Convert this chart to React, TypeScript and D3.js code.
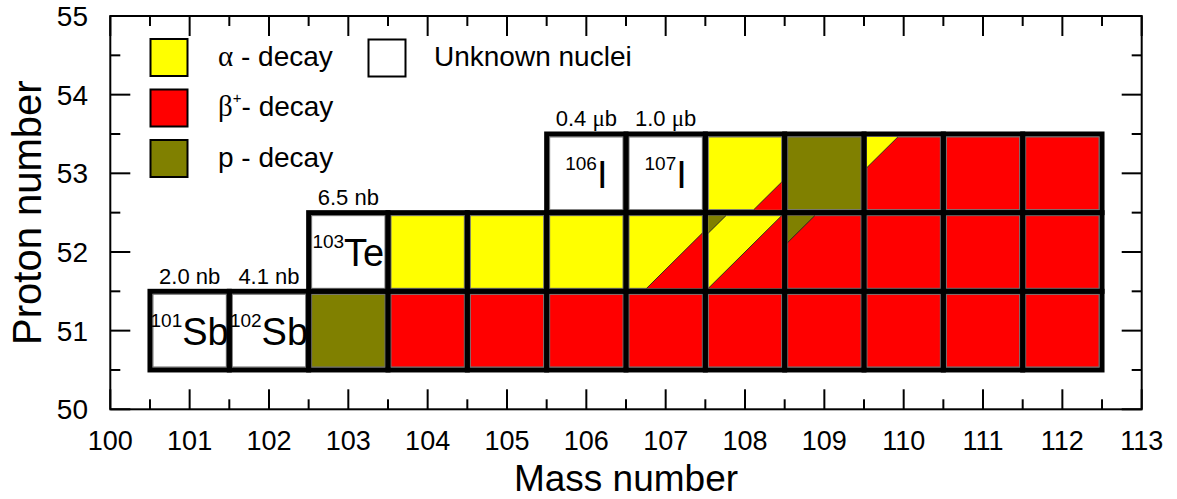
import React from "react";
import * as d3 from "d3";

// ---- data ----
const massTicks = [100, 101, 102, 103, 104, 105, 106, 107, 108, 109, 110, 111, 112, 113];
const protonTicks = [50, 51, 52, 53, 54, 55];

const row51Start = 101;
const row51Decay = ["unknown", "unknown", "p", "beta", "beta", "beta", "beta", "beta", "beta", "beta", "beta", "beta"];
const row52Start = 103;
const row52Decay = ["unknown", "alpha", "alpha", "alpha", "alpha", "alpha", "beta", "beta", "beta", "beta"];
const row53Start = 106;
const row53Decay = ["unknown", "unknown", "alpha", "p", "beta", "beta", "beta"];

// partial decay branches drawn as triangles in cell corners
const splitCells = [
  { A: 107, Z: 52, corner: "br", size: 0.76, decay: "beta" },
  { A: 108, Z: 52, corner: "br", size: 1.0, decay: "beta" },
  { A: 108, Z: 52, corner: "tl", size: 0.24, decay: "p" },
  { A: 109, Z: 52, corner: "tl", size: 0.37, decay: "p" },
  { A: 108, Z: 53, corner: "br", size: 0.38, decay: "beta" },
  { A: 110, Z: 53, corner: "tl", size: 0.42, decay: "alpha" },
];

const unknownLabels = [
  { A: 101, Z: 51, mass: "101", sym: "Sb", xsVal: "2.0", xsUnit: "nb" },
  { A: 102, Z: 51, mass: "102", sym: "Sb", xsVal: "4.1", xsUnit: "nb" },
  { A: 103, Z: 52, mass: "103", sym: "Te", xsVal: "6.5", xsUnit: "nb" },
  { A: 106, Z: 53, mass: "106", sym: "I", xsVal: "0.4", xsUnit: "μb" },
  { A: 107, Z: 53, mass: "107", sym: "I", xsVal: "1.0", xsUnit: "μb" },
];

const decayColors: Record<string, string> = {
  alpha: "#ffff00",
  beta: "#ff0000",
  p: "#808000",
  unknown: "#ffffff",
};

const W = 1177;
const H = 499;
const SANS = "'Liberation Sans', Arial, Helvetica, sans-serif";
const SERIF = "'Liberation Serif', 'Times New Roman', serif";

export default function App() {
  const x = d3.scaleLinear().domain([100, 113]).range([110.3, 1141.7]);
  const y = d3.scaleLinear().domain([50, 55]).range([409.3, 16]);

  const cells: { A: number; Z: number; decay: string }[] = [];
  const addRow = (Z: number, start: number, arr: string[]) =>
    arr.forEach((d, i) => cells.push({ A: start + i, Z, decay: d }));
  addRow(51, row51Start, row51Decay);
  addRow(52, row52Start, row52Decay);
  addRow(53, row53Start, row53Decay);

  const inset = 3;
  const cellBox = (A: number, Z: number) => {
    const x0 = x(A - 0.5);
    const x1 = x(A + 0.5);
    const y0 = y(Z + 0.5);
    const y1 = y(Z - 0.5);
    return { x0, x1, y0, y1 };
  };

  const halfTicks = d3.range(100, 113.001, 0.5);
  const halfTicksY = d3.range(50, 55.001, 0.5);
  const isMajor = (v: number) => Math.abs(v - Math.round(v)) < 1e-6;

  const plotL = x(100), plotR = x(113), plotT = y(55), plotB = y(50);

  const legendLeft = [
    { decay: "alpha", sym: "α", sup: "", text: " - decay", y: 39 },
    { decay: "beta", sym: "β", sup: "+", text: "- decay", y: 89.5 },
    { decay: "p", sym: "p", sup: "", text: " - decay", y: 140 },
  ];

  return (
    <svg width={W} height={H} style={{ position: "absolute", left: 0, top: 0, background: "#fff" }}>
      <rect x={0} y={0} width={W} height={H} fill="#fff" />

      {/* cell fills */}
      {cells.map((c, i) => {
        const b = cellBox(c.A, c.Z);
        return (
          <rect
            key={"f" + i}
            x={b.x0 + inset}
            y={b.y0 + inset}
            width={b.x1 - b.x0 - 2 * inset}
            height={b.y1 - b.y0 - 2 * inset}
            fill={decayColors[c.decay]}
            stroke="#6e6e6e"
            strokeWidth={1}
          />
        );
      })}

      {/* split triangles */}
      {splitCells.map((s, i) => {
        const b = cellBox(s.A, s.Z);
        const fx0 = b.x0 + inset, fx1 = b.x1 - inset, fy0 = b.y0 + inset, fy1 = b.y1 - inset;
        const w = fx1 - fx0, h = fy1 - fy0;
        let pts: [number, number][];
        let hyp: [number, number][];
        if (s.corner === "br") {
          pts = [[fx1 - s.size * w, fy1], [fx1, fy1], [fx1, fy1 - s.size * h]];
          hyp = [pts[0], pts[2]];
        } else {
          pts = [[fx0, fy0], [fx0 + s.size * w, fy0], [fx0, fy0 + s.size * h]];
          hyp = [pts[1], pts[2]];
        }
        return (
          <g key={"s" + i}>
            <polygon points={pts.map((p) => p.join(",")).join(" ")} fill={decayColors[s.decay]} />
            <line x1={hyp[0][0]} y1={hyp[0][1]} x2={hyp[1][0]} y2={hyp[1][1]} stroke="#222" strokeWidth={0.9} />
          </g>
        );
      })}

      {/* thick cell borders */}
      {cells.map((c, i) => {
        const b = cellBox(c.A, c.Z);
        return (
          <rect
            key={"b" + i}
            x={b.x0}
            y={b.y0}
            width={b.x1 - b.x0}
            height={b.y1 - b.y0}
            fill="none"
            stroke="#000"
            strokeWidth={5}
          />
        );
      })}

      {/* nucleus labels and cross sections */}
      {unknownLabels.map((u, i) => {
        const b = cellBox(u.A, u.Z);
        const cx = (b.x0 + b.x1) / 2;
        const cy = (b.y0 + b.y1) / 2;
        return (
          <g key={"l" + i} fontFamily={SANS} fill="#000">
            <text x={cx} y={cy + 14.5} textAnchor="middle">
              <tspan fontSize={19} dy={-18}>{u.mass}</tspan>
              <tspan fontSize={38} dy={18}>{u.sym}</tspan>
            </text>
            <text x={cx} y={b.y0 - 7.5} textAnchor="middle" fontSize={22}>
              {u.xsVal + " "}
              {u.xsUnit === "μb" ? (
                <>
                  <tspan fontFamily={SERIF} fontSize={23}>μ</tspan>
                  <tspan>b</tspan>
                </>
              ) : (
                u.xsUnit
              )}
            </text>
          </g>
        );
      })}

      {/* legend */}
      {legendLeft.map((l, i) => (
        <g key={"lg" + i}>
          <rect x={150.5} y={l.y} width={37} height={37} fill={decayColors[l.decay]} stroke="#000" strokeWidth={2} />
          <text x={218} y={l.y + 26.5} fontSize={28} fontFamily={SANS} fill="#000">
            {l.decay === "p" ? (
              <tspan>p</tspan>
            ) : (
              <tspan fontFamily={SERIF} fontSize={29}>{l.sym}</tspan>
            )}
            {l.sup ? <tspan fontSize={15} dy={-13}>{l.sup}</tspan> : null}
            <tspan dy={l.sup ? 13 : 0}>{l.text}</tspan>
          </text>
        </g>
      ))}
      <rect x={368.5} y={39.5} width={37} height={37} fill="#fff" stroke="#000" strokeWidth={2} />
      <text x={434} y={66} fontSize={28} fontFamily={SANS} fill="#000">Unknown nuclei</text>

      {/* frame */}
      <rect x={plotL} y={plotT} width={plotR - plotL} height={plotB - plotT} fill="none" stroke="#000" strokeWidth={2} />

      {/* x ticks (bottom and top, inward) */}
      {halfTicks.map((v, i) => {
        const len = isMajor(v) ? 20 : 10;
        return (
          <g key={"xt" + i} stroke="#000" strokeWidth={2}>
            <line x1={x(v)} x2={x(v)} y1={plotB} y2={plotB - len} />
            <line x1={x(v)} x2={x(v)} y1={plotT} y2={plotT + len} />
          </g>
        );
      })}
      {/* y ticks (left and right, inward) */}
      {halfTicksY.map((v, i) => {
        const len = isMajor(v) ? 20 : 10;
        return (
          <g key={"yt" + i} stroke="#000" strokeWidth={2}>
            <line x1={plotL} x2={plotL + len} y1={y(v)} y2={y(v)} />
            <line x1={plotR} x2={plotR - len} y1={y(v)} y2={y(v)} />
          </g>
        );
      })}

      {/* tick labels */}
      {massTicks.map((v) => (
        <text key={"xl" + v} x={x(v)} y={450} textAnchor="middle" fontSize={27} fontFamily={SANS} fill="#000">
          {v}
        </text>
      ))}
      {protonTicks.map((v) => (
        <text key={"yl" + v} x={88} y={y(v) + 10} textAnchor="end" fontSize={28} fontFamily={SANS} fill="#000">
          {v}
        </text>
      ))}

      {/* axis titles */}
      <text x={(plotL + plotR) / 2} y={491} textAnchor="middle" fontSize={37} fontFamily={SANS} fill="#000">
        Mass number
      </text>
      <text
        transform={`translate(41, ${(plotT + plotB) / 2}) rotate(-90)`}
        textAnchor="middle"
        fontSize={40}
        fontFamily={SANS}
        fill="#000"
      >
        Proton number
      </text>
    </svg>
  );
}
